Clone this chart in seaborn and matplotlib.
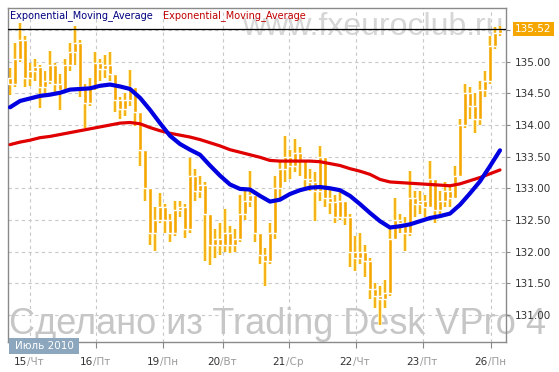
import numpy as np
import pandas as pd
import matplotlib
matplotlib.use("Agg")
import matplotlib.pyplot as plt
from matplotlib.patches import Rectangle
import seaborn as sns

# 2-hour candles, 15-26 July 2010
first_open = 134.75
close_px = [134.65, 135.05, 135.35, 134.75, 134.85, 134.92, 134.60, 134.70, 134.95, 134.65,
            134.56, 134.95, 135.15, 135.30, 134.60, 134.35, 134.60, 134.98, 134.88, 134.95,
            134.80, 134.40, 134.25, 134.40, 134.60, 134.20, 133.60, 133.00, 132.30, 132.50,
            132.70, 132.50, 132.30, 132.65, 132.70, 132.35, 133.20, 132.95, 133.05, 132.60,
            132.10, 132.20, 132.10, 132.30, 132.10, 132.20, 132.60, 132.80, 132.90, 132.30,
            131.95, 131.85, 132.30, 133.00, 133.30, 133.50, 133.35, 133.55, 133.45, 133.15,
            133.10, 132.95, 133.50, 132.85, 132.78, 132.55, 132.80, 132.55, 132.00, 131.90,
            132.00, 131.85, 131.40, 131.30, 131.25, 131.35, 132.20, 132.50, 132.45, 132.30,
            132.85, 132.75, 132.80, 132.70, 133.15, 132.65, 132.80, 132.95, 132.85, 133.20,
            134.00, 134.50, 134.30, 134.10, 134.55, 134.70, 135.25, 135.45, 135.52]
high_px = [134.90, 135.30, 135.62, 135.40, 134.98, 135.05, 134.95, 134.85, 135.17, 134.98,
           134.80, 135.05, 135.30, 135.57, 135.35, 134.65, 134.75, 135.15, 135.05, 135.10,
           135.16, 134.80, 134.45, 134.50, 134.87, 134.60, 134.10, 133.40, 132.90, 132.70,
           132.93, 132.75, 132.60, 132.80, 132.80, 132.75, 133.48, 133.30, 133.20, 133.10,
           132.60, 132.35, 132.45, 132.68, 132.40, 132.35, 132.90, 133.00, 133.28, 132.95,
           132.30, 132.05, 132.45, 133.20, 133.45, 133.83, 133.60, 133.78, 133.65, 133.45,
           133.30, 133.25, 133.67, 133.30, 133.00, 132.90, 132.95, 132.75, 132.60, 132.25,
           132.30, 132.10, 131.90, 131.50, 131.45, 131.55, 132.40, 132.85, 132.60, 132.55,
           133.28, 132.95, 132.95, 132.90, 133.43, 133.10, 132.95, 133.10, 133.05, 133.35,
           134.10, 134.65, 134.60, 134.50, 134.70, 134.85, 135.40, 135.55, 135.57]
low_px = [134.48, 134.60, 135.00, 134.60, 134.62, 134.70, 134.27, 134.50, 134.65, 134.50,
          134.24, 134.50, 134.85, 134.95, 134.45, 133.96, 134.30, 134.55, 134.70, 134.75,
          134.70, 134.20, 134.10, 134.15, 134.30, 133.98, 133.35, 132.80, 132.10, 132.01,
          132.45, 132.30, 132.15, 132.25, 132.55, 132.22, 132.30, 132.80, 132.85, 131.85,
          131.79, 131.90, 131.95, 132.00, 131.98, 132.00, 132.15, 132.50, 132.70, 132.15,
          131.80, 131.46, 131.80, 132.20, 132.85, 133.10, 133.15, 133.25, 133.20, 133.00,
          132.95, 132.49, 132.80, 132.70, 132.60, 132.45, 132.50, 132.42, 131.75, 131.70,
          131.80, 131.60, 131.25, 131.10, 130.84, 131.10, 131.30, 132.20, 132.30, 132.01,
          132.25, 132.55, 132.60, 132.55, 132.70, 132.45, 132.60, 132.70, 132.70, 132.85,
          133.20, 133.95, 134.10, 133.88, 134.00, 134.45, 134.65, 135.20, 135.40]

# EMA values at every second candle
ema_fast = [134.28, 134.38, 134.42, 134.46, 134.48, 134.51, 134.56, 134.57, 134.58, 134.62,
            134.64, 134.61, 134.57, 134.43, 134.24, 134.03, 133.83, 133.70, 133.61, 133.53,
            133.36, 133.20, 133.06, 132.99, 132.98, 132.88, 132.79, 132.82, 132.91, 132.97,
            133.01, 133.02, 133.00, 132.97, 132.88, 132.75, 132.61, 132.48, 132.38, 132.40,
            132.43, 132.48, 132.53, 132.56, 132.60, 132.74, 132.92, 133.11, 133.35, 133.60]
ema_slow = [133.69, 133.73, 133.76, 133.80, 133.82, 133.85, 133.88, 133.91, 133.94, 133.97,
            134.00, 134.03, 134.04, 134.02, 133.96, 133.91, 133.87, 133.84, 133.81, 133.77,
            133.72, 133.67, 133.61, 133.57, 133.53, 133.49, 133.44, 133.43, 133.43, 133.43,
            133.43, 133.42, 133.39, 133.36, 133.31, 133.27, 133.22, 133.14, 133.10, 133.09,
            133.08, 133.07, 133.06, 133.05, 133.04, 133.07, 133.12, 133.17, 133.23, 133.29]

day_ticks = [4.0, 17.2, 30.6, 42.6, 55.8, 69.2, 82.6, 96.2]
day_nums = ["15", "16", "19", "20", "21", "22", "23", "26"]
day_names = ["/Чт", "/Пт", "/Пн", "/Вт", "/Ср", "/Чт", "/Пт", "/Пн"]
y_ticks = [131.0, 131.5, 132.0, 132.5, 133.0, 133.5, 134.0, 134.5, 135.0, 135.5]
last_price = 135.52
month_label = "Июль 2010"
legend_name = "Exponential_Moving_Average"

bars = pd.DataFrame({"close": close_px, "high": high_px, "low": low_px})
bars["open"] = bars["close"].shift(1).fillna(first_open)
bars["bar"] = np.arange(len(bars))
ema = pd.DataFrame({"bar": np.arange(0, len(bars), 2), "fast": ema_fast, "slow": ema_slow})

sns.set_style("white")
plt.rcParams["font.family"] = ["DejaVu Sans"]

W, H = 559, 372
fig = plt.figure(figsize=(W / 100, H / 100), dpi=100)
ax = fig.add_axes([8 / W, 1 - 342 / H, (506 - 8) / W, (342 - 8) / H])
ax.patch.set_alpha(0)

orange = "#f5a600"
glow = "#fff1a8"
body_lo = bars[["open", "close"]].min(axis=1)
body_h = (bars["close"] - bars["open"]).abs().clip(lower=0.02)

# soft halo then candles
ax.vlines(bars["bar"], bars["low"], bars["high"], color=glow, lw=2.8, zorder=2)
ax.bar(bars["bar"], body_h, bottom=body_lo, width=1.0, color=glow, zorder=2)
ax.vlines(bars["bar"], bars["low"], bars["high"], color=orange, lw=1.2, zorder=3)
ax.bar(bars["bar"], body_h, bottom=body_lo, width=0.75, color=orange, zorder=3)

sns.lineplot(data=ema, x="bar", y="slow", color="#e00000", lw=2.3, ax=ax, zorder=4)
sns.lineplot(data=ema, x="bar", y="fast", color="#0000e0", lw=3.0, ax=ax, zorder=5)

ax.axhline(last_price, color="black", lw=0.9, zorder=6)

ax.set_xlim(-0.4, 99.2)
ax.set_ylim(130.57, 135.85)
ax.set_xlabel("")
ax.set_ylabel("")

# 135.50 label sits under the price tag, so it is left blank
ax.yaxis.tick_right()
ax.set_yticks(y_ticks)
ax.set_yticklabels([f"{v:.2f}" if v < last_price - 0.1 else "" for v in y_ticks])
ax.tick_params(axis="y", length=3, width=0.8, color="#888888", labelsize=7.5,
               labelcolor="#333333", pad=3, right=True, left=False)
ax.set_xticks(day_ticks)
ax.set_xticklabels([])
ax.tick_params(axis="x", length=4, width=0.8, color="#888888", bottom=True)

ax.grid(True, ls=(0, (3, 3)), color="#c8c8c8", lw=0.8)
ax.set_axisbelow(True)
for side in ["left", "top", "right", "bottom"]:
    ax.spines[side].set_visible(True)
    ax.spines[side].set_color("#8a8a8a")
    ax.spines[side].set_linewidth(1.0)

# current price tag
ax.annotate(f"{last_price:.2f}", xy=(1, last_price), xycoords=("axes fraction", "data"),
            xytext=(9, 0), textcoords="offset pixels", ha="left", va="center",
            color="white", fontsize=7.5, zorder=7,
            bbox=dict(boxstyle="square,pad=0.2", fc=orange, ec="none"))

# two-tone day labels
for pos, num, name in zip(day_ticks, day_nums, day_names):
    ax.annotate(num, xy=(pos, 0), xycoords=("data", "axes fraction"), xytext=(-3, -20),
                textcoords="offset pixels", ha="right", va="center", color="#333333",
                fontsize=7.5)
    ax.annotate(name, xy=(pos, 0), xycoords=("data", "axes fraction"), xytext=(-3, -20),
                textcoords="offset pixels", ha="left", va="center", color="#9a9a9a",
                fontsize=7.5)

# month box
fig.add_artist(Rectangle((9 / W, 1 - 354 / H), 70 / W, 16 / H, transform=fig.transFigure,
                         fc="#8ba6bd", ec="none", zorder=5))
fig.text(44 / W, 1 - 346 / H, month_label, ha="center", va="center", color="white",
         fontsize=7.5, zorder=6)

# legend line
fig.text(10 / W, 1 - 16 / H, legend_name, color="#00007f", fontsize=7, va="center", zorder=6)
fig.text(163 / W, 1 - 16 / H, legend_name, color="#c00000", fontsize=7, va="center", zorder=6)

# watermarks behind the chart
fig.text(504 / W, 1 - 35 / H, "www.fxeuroclub.ru", ha="right", va="baseline", fontsize=23,
         color="#d6d6d6", family="Liberation Sans", zorder=-1)
fig.text(9 / W, 1 - 334 / H, "Сделано из Trading Desk VPro 4", ha="left", va="baseline",
         fontsize=26, color="#c6c6c6", family="Liberation Sans", zorder=-1)

fig.savefig("out.png", dpi=100)
